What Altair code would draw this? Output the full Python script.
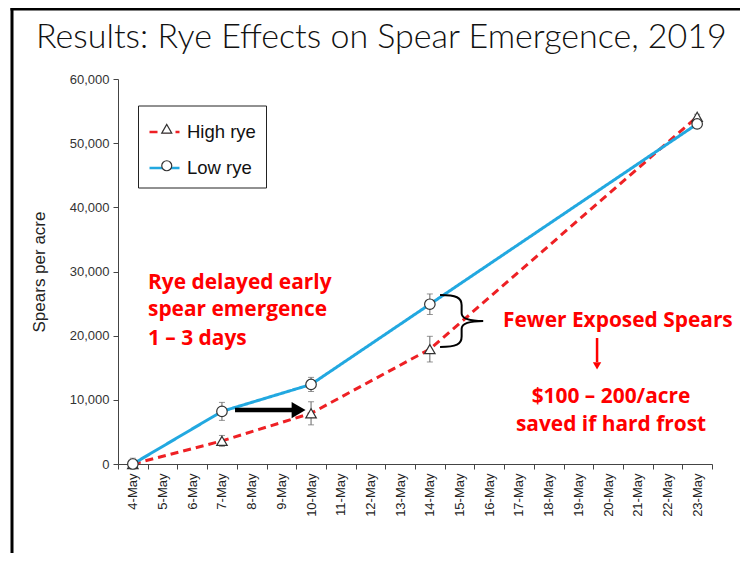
import altair as alt
import pandas as pd

# ---- data ----
dates = [f"{d}-May" for d in range(4, 24)]
days = [4, 7, 10, 14, 23]
series_names = ["High rye", "Low rye"]
high_rye = [0, 3600, 7900, 17900, 54100]
low_rye = [0, 8200, 12400, 24900, 53000]
high_err = [400, 850, 1800, 2000, 400]
low_err = [900, 1400, 1100, 1600, 400]

title_text = ["Results: Rye Effects on Spear Emergence, 2019"]
left_note = ["Rye delayed early", "spear emergence", "1 \u2013 3 days"]
left_note_y = [28200, 24000, 19480]
right_note = ["Fewer Exposed Spears", "$100 \u2013 200/acre", "saved if hard frost"]
right_note_x = [20.33, 20.1, 20.1]
right_note_y = [22280, 10440, 6080]

# ---- tables ----
markers = [s + " " for s in series_names]
rows = []
for name, vals, errs in [("High rye", high_rye, high_err), ("Low rye", low_rye, low_err)]:
    for d, v, e in zip(days, vals, errs):
        rows.append({"series": name, "marker": name + " ", "day": d, "value": v,
                     "lo": max(v - e, 0), "hi": v + e})
df = pd.DataFrame(rows)
axis_df = pd.DataFrame({"date": dates})
title_df = pd.DataFrame({"text": title_text})
left_df = pd.DataFrame({"text": left_note, "day": [4.51] * 3, "value": left_note_y})
right_df = pd.DataFrame({"text": right_note, "day": right_note_x, "value": right_note_y})
black_arrow = pd.DataFrame({"day": [7.44], "day2": [9.4], "value": [8400], "head": [9.58]})
red_arrow = pd.DataFrame({"day": [19.63], "value": [19640], "value2": [15900], "head": [15300]})
brace_df = pd.DataFrame({"day": [15.07], "value": [22290]})
dummy = pd.DataFrame({"a": [0]})

RED = "#ee2024"
BLUE = "#22a8e0"
XSCALE = alt.Scale(domain=[3.5, 23.5], nice=False, zero=False)
YSCALE = alt.Scale(domain=[0, 60000], nice=False)
YAXIS = alt.Axis(values=list(range(0, 60001, 10000)), format=",d", grid=False,
                 title="Spears per acre", titleFont="Liberation Sans",
                 titleFontSize=17, titleFontWeight="normal", titleColor="#222",
                 titlePadding=21, labelFont="Liberation Sans", labelFontSize=13,
                 labelColor="#333", tickColor="#444", domainColor="#444",
                 tickSize=5, labelPadding=4)


def xq(field="day"):
    return alt.X(f"{field}:Q", scale=XSCALE, axis=None)


def yq(field="value"):
    return alt.Y(f"{field}:Q", scale=YSCALE, axis=YAXIS)


axis_layer = alt.Chart(axis_df).mark_point(opacity=0).encode(
    x=alt.X("date:O", sort=dates,
            scale=alt.Scale(type="band", domain=dates, paddingInner=0, paddingOuter=0),
            axis=alt.Axis(title=None, labelAngle=-90, tickBand="extent",
                          labelFont="Liberation Sans", labelFontSize=13, labelColor="#222",
                          tickColor="#444", domainColor="#444", tickSize=5, labelPadding=4))
)

line_legend = dict(orient="none", legendX=20, legendY=26.5, title=None,
                   symbolType="stroke", symbolSize=900, symbolStrokeWidth=2.5,
                   labelFont="Liberation Sans", labelFontSize=18.5, labelColor="#111",
                   labelOffset=6, padding=10, rowPadding=10, strokeColor="#222", zindex=0)
lines = alt.Chart(df).mark_line(strokeWidth=3).encode(
    x=xq(), y=yq(),
    color=alt.Color("series:N", scale=alt.Scale(domain=series_names, range=[RED, BLUE]),
                    legend=alt.Legend(**line_legend)),
    strokeDash=alt.StrokeDash("series:N",
                              scale=alt.Scale(domain=series_names, range=[[8, 5], [1, 0]]),
                              legend=alt.Legend(**line_legend)),
)

err_rule = alt.Chart(df).mark_rule(color="#666", strokeWidth=1).encode(
    x=xq(), y=yq("lo"), y2="hi:Q")
cap_lo = alt.Chart(df).mark_tick(color="#666", orient="horizontal", size=6, thickness=1).encode(
    x=xq(), y=yq("lo"))
cap_hi = alt.Chart(df).mark_tick(color="#666", orient="horizontal", size=6, thickness=1).encode(
    x=xq(), y=yq("hi"))

marker_legend = dict(orient="none", legendX=29.5, legendY=30.5, title=None,
                     symbolSize=100, symbolStrokeWidth=1.2, symbolOpacity=1,
                     labelFont="Liberation Sans", labelFontSize=18.5, labelOpacity=0,
                     padding=10, rowPadding=18, zindex=1)
points = alt.Chart(df).mark_point(filled=False, fill="white", strokeWidth=1.2, size=110,
                                  opacity=1).encode(
    x=xq(), y=yq(),
    shape=alt.Shape("marker:N", scale=alt.Scale(domain=markers, range=["triangle-up", "circle"]),
                    legend=alt.Legend(**marker_legend)),
    stroke=alt.Stroke("marker:N", scale=alt.Scale(domain=markers, range=["#333", "#333"]),
                      legend=alt.Legend(**marker_legend)),
)

title = alt.Chart(title_df).mark_text(align="left", baseline="alphabetic", font="Lato",
                                      fontWeight=300, fontSize=34, color="#111").encode(
    x=alt.value(-82), y=alt.value(-31), text="text:N")

left_text = alt.Chart(left_df).mark_text(align="left", baseline="middle", font="Open Sans",
                                         fontWeight="bold", fontSize=20.9, color="#ff0000").encode(
    x=xq(), y=yq(), text="text:N")
right_text = alt.Chart(right_df).mark_text(align="center", baseline="middle", font="Open Sans",
                                           fontWeight="bold", fontSize=20.9, color="#ff0000").encode(
    x=xq(), y=yq(), text="text:N")

barrow = alt.Chart(black_arrow).mark_rule(color="black", strokeWidth=4.5).encode(
    x=xq(), x2="day2:Q", y=yq())
bhead = alt.Chart(black_arrow).mark_point(shape="triangle-right", filled=True, color="black",
                                          size=260, opacity=1).encode(
    x=xq("head"), y=yq())
rarrow = alt.Chart(red_arrow).mark_rule(color="#ff0000", strokeWidth=2.5).encode(
    x=xq(), y=yq(), y2="value2:Q")
rhead = alt.Chart(red_arrow).mark_point(shape="triangle-down", filled=True, color="#ff0000",
                                        size=70, opacity=1).encode(
    x=xq(), y=yq("head"))

brace_path = ("M-0.83,-1 C-0.2,-1 0,-0.9 0,-0.6 L0,-0.3 C0,-0.1 0.3,0 0.83,0 "
              "C0.3,0 0,0.1 0,0.3 L0,0.6 C0,0.9 -0.2,1 -0.83,1")
brace = alt.Chart(brace_df).mark_point(shape=brace_path, filled=False, color="black",
                                       strokeWidth=2, size=2704, opacity=1).encode(
    x=xq(), y=yq())

frame_left = alt.Chart(dummy).mark_rect(color="black").encode(
    x=alt.value(-107.5), x2=alt.value(-104.5), y=alt.value(-71), y2=alt.value(474))
frame_top = alt.Chart(dummy).mark_rect(color="black").encode(
    x=alt.value(-107.5), x2=alt.value(622), y=alt.value(-71), y2=alt.value(-68.5))

chart = alt.layer(
    axis_layer, lines, err_rule, cap_lo, cap_hi, points, title, left_text, right_text,
    barrow, bhead, rarrow, rhead, brace, frame_left, frame_top
).resolve_scale(x="independent").properties(
    width=594, height=385,
    autosize=alt.AutoSizeParams(type="none"),
    padding={"left": 110, "top": 71, "right": 28, "bottom": 89},
).configure_view(stroke=None)

chart.save("out.html", embed_options={"renderer": "svg", "actions": False})
